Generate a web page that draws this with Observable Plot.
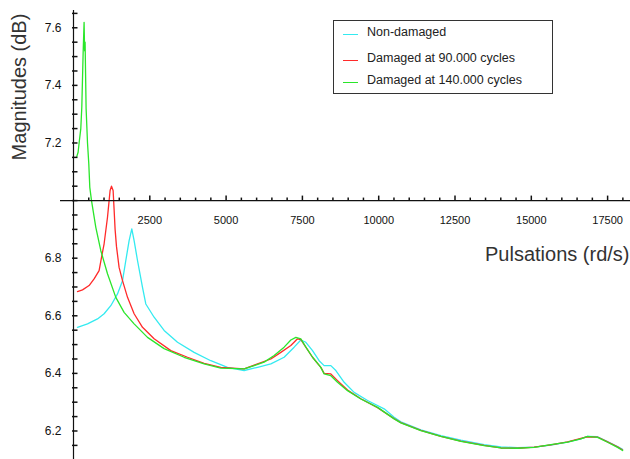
<!DOCTYPE html>
<html><head><meta charset="utf-8">
<script src="https://cdn.jsdelivr.net/npm/d3@7"></script>
<script src="https://cdn.jsdelivr.net/npm/@observablehq/plot@0.6"></script>
<style>
html,body{margin:0;padding:0;background:#fff;}
#wrap{position:relative;width:630px;height:459px;overflow:hidden;background:#fff;}
#legend{position:absolute;left:333px;top:20px;width:218px;height:72px;border:1px solid #333;background:#fff;font:12.5px "Liberation Sans",Arial,sans-serif;color:#222;}
#legend .sw{position:absolute;left:9px;width:15px;height:0;border-top:1.5px solid;}
#legend .tx{position:absolute;left:33px;line-height:16px;white-space:nowrap;}
#ytitle{position:absolute;left:19px;top:87px;transform:translate(-50%,-50%) rotate(-90deg);font:20px "Liberation Sans",Arial,sans-serif;color:#333;white-space:nowrap;line-height:22px;}
</style>
</head><body>
<div id="wrap"><div id="ytitle"></div><div id="legend"></div></div>
<script>
// ---- data ----
const seriesNames = ["Non-damaged", "Damaged at 90.000 cycles", "Damaged at 140.000 cycles"];
const seriesColors = ["#33eaf0", "#ff2a2a", "#2ae62a"];

const xCyan = [131,459,786,1003,1222,1442,1606,1714,1822,1910,1986,2097,2261,2369,2641,2969,3408,3952,4499,5046,5591,6030,6466,6901,7229,7449,7613,7832,8048,8212,8432,8596,8868,9195,9634,10178,10506,10726,11381,12037,12692,13455,14002,14550,15094,15641,16188,16624,16844,17171,17499,17827,17991];
const yCyan = [6.560,6.572,6.589,6.607,6.635,6.676,6.722,6.792,6.861,6.902,6.861,6.792,6.699,6.641,6.595,6.549,6.508,6.473,6.444,6.421,6.410,6.421,6.433,6.456,6.491,6.516,6.508,6.479,6.444,6.427,6.427,6.410,6.369,6.334,6.306,6.277,6.248,6.232,6.204,6.184,6.168,6.153,6.145,6.142,6.144,6.151,6.161,6.173,6.181,6.180,6.163,6.146,6.136];

const xRed = [131,295,511,675,839,918,1003,1114,1167,1199,1245,1298,1330,1363,1409,1494,1606,1770,1986,2261,2641,3189,3736,4280,4827,5591,6030,6466,6793,7121,7340,7449,7613,7832,8104,8212,8432,8651,8979,9415,9962,10506,10726,11381,12037,12692,13455,14002,14550,15094,15641,16188,16624,16844,17171,17499,17827,17991];
const yRed = [6.684,6.690,6.705,6.728,6.757,6.803,6.850,6.942,7.000,7.035,7.050,7.035,6.970,6.900,6.840,6.768,6.722,6.664,6.607,6.560,6.520,6.479,6.456,6.435,6.421,6.416,6.433,6.450,6.473,6.497,6.520,6.517,6.491,6.456,6.421,6.400,6.398,6.375,6.342,6.312,6.281,6.243,6.229,6.202,6.181,6.165,6.150,6.141,6.140,6.144,6.152,6.162,6.174,6.180,6.179,6.162,6.145,6.134];

const xGreen = [108,151,184,239,272,315,347,364,380,413,459,501,534,590,731,895,1114,1386,1658,1986,2425,2969,3624,4280,4827,5591,5918,6246,6574,6901,7121,7285,7449,7613,7832,8104,8212,8432,8651,8979,9415,9962,10506,10726,11381,12037,12692,13455,14002,14550,15094,15641,16188,16624,16844,17171,17499,17827,17991];
const yGreen = [7.153,7.168,7.200,7.250,7.324,7.510,7.619,7.520,7.550,7.320,7.200,7.128,7.046,7.000,6.907,6.826,6.746,6.664,6.612,6.572,6.525,6.486,6.456,6.433,6.418,6.416,6.427,6.439,6.462,6.491,6.516,6.525,6.520,6.491,6.456,6.421,6.398,6.392,6.369,6.340,6.311,6.282,6.242,6.228,6.201,6.181,6.164,6.149,6.141,6.140,6.143,6.153,6.161,6.173,6.181,6.178,6.161,6.143,6.132];

const xMajorTicks = [2500,5000,7500,10000,12500,15000,17500];
const xMinorTicks = d3.range(500, 18001, 500).filter(v => v % 2500 !== 0);
const yLabelTicks = [6.2,6.4,6.6,6.8,7.2,7.4,7.6];
const yMinorTicks = d3.range(6.15, 7.66, 0.05).map(v => +v.toFixed(2));
const xTitle = "Pulsations (rd/s)";
const yTitle = "Magnitudes (dB)";
const axisCross = 7.0;

// ---- build table ----
const xs = [xCyan, xRed, xGreen], ys = [yCyan, yRed, yGreen];
const table = [];
seriesNames.forEach((name, i) => xs[i].forEach((x, j) => table.push({series: name, x, y: ys[i][j]})));

const tickUp = {draw(ctx, size){ const l = Math.sqrt(size / Math.PI); ctx.moveTo(0, 0); ctx.lineTo(0, -l); }};
const tickRight = {draw(ctx, size){ const l = Math.sqrt(size / Math.PI); ctx.moveTo(-1.5, 0); ctx.lineTo(l, 0); }};
const tickFont = '"Liberation Sans", Arial, sans-serif';

const chart = Plot.plot({
  width: 630, height: 459,
  marginLeft: 73, marginRight: 0, marginTop: 10, marginBottom: 0,
  x: {domain: [0, 18250], axis: null},
  y: {domain: [6.101, 7.66], axis: null},
  color: {domain: seriesNames, range: seriesColors},
  style: {background: "white", overflow: "visible"},
  marks: [
    Plot.line(table, {x: "x", y: "y", z: "series", stroke: "series", strokeWidth: 1.3}),
    Plot.ruleX([0], {stroke: "#111", strokeWidth: 1.2}),
    Plot.ruleY([axisCross], {stroke: "#111", strokeWidth: 1.2, insetLeft: -13}),
    Plot.dot(xMinorTicks, {x: d => d, y: () => axisCross, r: 3, symbol: tickUp, stroke: "#111", fill: "none"}),
    Plot.dot(xMajorTicks, {x: d => d, y: () => axisCross, r: 5, symbol: tickUp, stroke: "#111", fill: "none"}),
    Plot.dot(yMinorTicks, {x: () => 0, y: d => d, r: 4, symbol: tickRight, stroke: "#111", fill: "none"}),
    Plot.text(yLabelTicks, {x: () => 0, y: d => d, text: d => d.toFixed(1), dx: -12, textAnchor: "end", fontSize: 12, fontFamily: tickFont, fill: "#111"}),
    Plot.text(xMajorTicks, {x: d => d, y: () => axisCross, text: d => String(d), dy: 20, fontSize: 11, fontFamily: tickFont, fill: "#111"}),
    Plot.text([xTitle], {frameAnchor: "top-right", dx: -1, dy: 236, textAnchor: "end", fontSize: 20, fontFamily: tickFont, fill: "#333"})
  ]
});
document.getElementById("wrap").prepend(chart);
document.getElementById("ytitle").textContent = yTitle;

// legend
const legend = document.getElementById("legend");
const rowTextY = [2.7, 28.7, 51];
const rowLineY = [13, 39, 61];
seriesNames.forEach((name, i) => {
  const sw = document.createElement("div");
  sw.className = "sw"; sw.style.top = rowLineY[i] + "px"; sw.style.borderColor = seriesColors[i];
  const tx = document.createElement("div");
  tx.className = "tx"; tx.style.top = rowTextY[i] + "px"; tx.textContent = name;
  legend.append(sw, tx);
});
</script>
</body></html>
